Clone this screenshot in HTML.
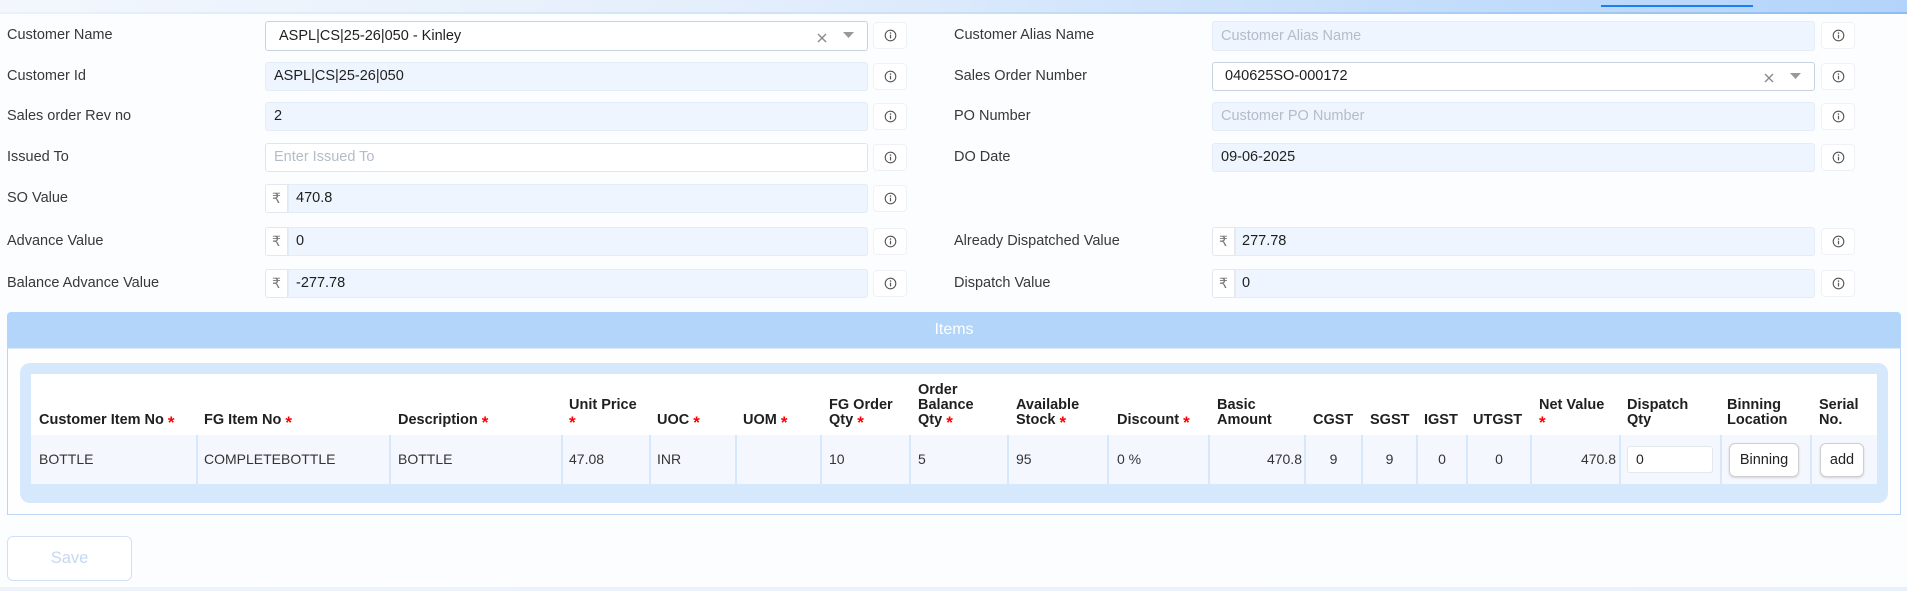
<!DOCTYPE html>
<html><head><meta charset="utf-8">
<style>
*{box-sizing:border-box;margin:0;padding:0}
body{width:1907px;height:591px;overflow:hidden;background:#fcfdff;font-family:"Liberation Sans","DejaVu Sans",sans-serif;position:relative;color:#222}
.a{position:absolute}
.lbl{position:absolute;font-size:14.5px;color:#383838;height:29px;line-height:29px;white-space:nowrap}
.in{position:absolute;height:29px;background:#eef5fe;border:1px solid #e4ecf6;border-radius:3px;font-size:14.5px;line-height:27px;padding-left:8px;color:#1e1e1e;white-space:nowrap;overflow:hidden}
.sel{background:#fff;border-color:#c9d3df;padding-left:13px}
.wh{background:#fff;border-color:#dfe5ee}
.ph{color:#b3bcc8}
.rp{position:absolute;height:29px;width:23px;background:#fff;border:1px solid #e3e8ef;border-radius:3px 0 0 3px;font-size:14px;line-height:27px;text-align:center;color:#777}
.info{position:absolute;width:34px;height:27px;background:#fff;border:1px solid #eef1f6;border-radius:4px}
.info svg{position:absolute;left:10px;top:6px}
.x{position:absolute}
.th{position:absolute;top:374px;height:61px;display:flex;align-items:flex-end;padding:0 0 7px 8px;font-weight:bold;font-size:14.5px;line-height:15px;color:#202020;white-space:nowrap}
.r{color:#f00;font-size:17px;line-height:10px;position:relative;top:4px;font-weight:bold}
.td{position:absolute;top:435px;height:49px;background:#f4f8fe;font-size:14px;line-height:49px;padding-left:8px;color:#333;white-space:nowrap}
.btn{position:absolute;background:#fff;border:1px solid #cfcfcf;border-radius:6px;box-shadow:0 1px 2px rgba(0,0,0,.15);font-size:14.5px;text-align:center;color:#222}
</style></head><body>

<!-- top band -->
<div class="a" style="left:0;top:0;width:1907px;height:13px;background:linear-gradient(to right,#f3f7fd 0%,#e3eefc 40%,#c4ddfb 75%,#b3d4fa 100%)"></div>
<div class="a" style="left:0;top:12px;width:1907px;height:2px;background:linear-gradient(to right,#eaf1fb 0%,#c9dff8 50%,#8dbcf3 100%)"></div>
<div class="a" style="left:1601px;top:5px;width:152px;height:2px;background:#1a7ff5"></div>

<!-- left labels -->
<div class="lbl" style="left:7px;top:21px">Customer Name</div>
<div class="lbl" style="left:7px;top:62px">Customer Id</div>
<div class="lbl" style="left:7px;top:102px">Sales order Rev no</div>
<div class="lbl" style="left:7px;top:143px">Issued To</div>
<div class="lbl" style="left:7px;top:184px">SO Value</div>
<div class="lbl" style="left:7px;top:227px">Advance Value</div>
<div class="lbl" style="left:7px;top:269px">Balance Advance Value</div>

<!-- left inputs -->
<div class="in sel" style="left:265px;top:21px;width:603px;height:30px;line-height:28px">ASPL|CS|25-26|050 - Kinley</div>
<svg class="x" style="left:817px;top:33px" width="10" height="10"><path d="M1 1L9 9M9 1L1 9" stroke="#8a8a8a" stroke-width="1.4"/></svg>
<svg class="x" style="left:843px;top:32px" width="11" height="6"><path d="M0 0H11L5.5 6Z" fill="#999"/></svg>
<div class="in" style="left:265px;top:62px;width:603px">ASPL|CS|25-26|050</div>
<div class="in" style="left:265px;top:102px;width:603px">2</div>
<div class="in wh ph" style="left:265px;top:143px;width:603px">Enter Issued To</div>
<div class="rp" style="left:265px;top:184px">₹</div>
<div class="in" style="left:288px;top:184px;width:580px;border-radius:0 3px 3px 0;padding-left:7px">470.8</div>
<div class="rp" style="left:265px;top:227px">₹</div>
<div class="in" style="left:288px;top:227px;width:580px;border-radius:0 3px 3px 0;padding-left:7px">0</div>
<div class="rp" style="left:265px;top:269px">₹</div>
<div class="in" style="left:288px;top:269px;width:580px;border-radius:0 3px 3px 0;padding-left:7px">-277.78</div>

<!-- left info -->
<div class="info" style="left:873px;top:22px"><svg width="13" height="13"><circle cx="6.5" cy="6.5" r="5.3" fill="none" stroke="#555" stroke-width="1.1"/><circle cx="6.5" cy="4" r=".8" fill="#555"/><path d="M6.5 5.7V9.4" stroke="#555" stroke-width="1.2"/></svg></div>
<div class="info" style="left:873px;top:63px"><svg width="13" height="13"><circle cx="6.5" cy="6.5" r="5.3" fill="none" stroke="#555" stroke-width="1.1"/><circle cx="6.5" cy="4" r=".8" fill="#555"/><path d="M6.5 5.7V9.4" stroke="#555" stroke-width="1.2"/></svg></div>
<div class="info" style="left:873px;top:103px"><svg width="13" height="13"><circle cx="6.5" cy="6.5" r="5.3" fill="none" stroke="#555" stroke-width="1.1"/><circle cx="6.5" cy="4" r=".8" fill="#555"/><path d="M6.5 5.7V9.4" stroke="#555" stroke-width="1.2"/></svg></div>
<div class="info" style="left:873px;top:144px"><svg width="13" height="13"><circle cx="6.5" cy="6.5" r="5.3" fill="none" stroke="#555" stroke-width="1.1"/><circle cx="6.5" cy="4" r=".8" fill="#555"/><path d="M6.5 5.7V9.4" stroke="#555" stroke-width="1.2"/></svg></div>
<div class="info" style="left:873px;top:185px"><svg width="13" height="13"><circle cx="6.5" cy="6.5" r="5.3" fill="none" stroke="#555" stroke-width="1.1"/><circle cx="6.5" cy="4" r=".8" fill="#555"/><path d="M6.5 5.7V9.4" stroke="#555" stroke-width="1.2"/></svg></div>
<div class="info" style="left:873px;top:228px"><svg width="13" height="13"><circle cx="6.5" cy="6.5" r="5.3" fill="none" stroke="#555" stroke-width="1.1"/><circle cx="6.5" cy="4" r=".8" fill="#555"/><path d="M6.5 5.7V9.4" stroke="#555" stroke-width="1.2"/></svg></div>
<div class="info" style="left:873px;top:270px"><svg width="13" height="13"><circle cx="6.5" cy="6.5" r="5.3" fill="none" stroke="#555" stroke-width="1.1"/><circle cx="6.5" cy="4" r=".8" fill="#555"/><path d="M6.5 5.7V9.4" stroke="#555" stroke-width="1.2"/></svg></div>

<!-- right labels -->
<div class="lbl" style="left:954px;top:21px">Customer Alias Name</div>
<div class="lbl" style="left:954px;top:62px">Sales Order Number</div>
<div class="lbl" style="left:954px;top:102px">PO Number</div>
<div class="lbl" style="left:954px;top:143px">DO Date</div>
<div class="lbl" style="left:954px;top:227px">Already Dispatched Value</div>
<div class="lbl" style="left:954px;top:269px">Dispatch Value</div>

<!-- right inputs -->
<div class="in ph" style="left:1212px;top:21px;width:603px;height:30px;line-height:28px">Customer Alias Name</div>
<div class="in sel" style="left:1212px;top:62px;width:603px;padding-left:12px">040625SO-000172</div>
<svg class="x" style="left:1764px;top:73px" width="10" height="10"><path d="M1 1L9 9M9 1L1 9" stroke="#8a8a8a" stroke-width="1.4"/></svg>
<svg class="x" style="left:1790px;top:73px" width="11" height="6"><path d="M0 0H11L5.5 6Z" fill="#999"/></svg>
<div class="in ph" style="left:1212px;top:102px;width:603px">Customer PO Number</div>
<div class="in" style="left:1212px;top:143px;width:603px">09-06-2025</div>
<div class="rp" style="left:1212px;top:227px">₹</div>
<div class="in" style="left:1235px;top:227px;width:580px;border-radius:0 3px 3px 0;padding-left:6px">277.78</div>
<div class="rp" style="left:1212px;top:269px">₹</div>
<div class="in" style="left:1235px;top:269px;width:580px;border-radius:0 3px 3px 0;padding-left:6px">0</div>

<!-- right info -->
<div class="info" style="left:1821px;top:22px"><svg width="13" height="13"><circle cx="6.5" cy="6.5" r="5.3" fill="none" stroke="#555" stroke-width="1.1"/><circle cx="6.5" cy="4" r=".8" fill="#555"/><path d="M6.5 5.7V9.4" stroke="#555" stroke-width="1.2"/></svg></div>
<div class="info" style="left:1821px;top:63px"><svg width="13" height="13"><circle cx="6.5" cy="6.5" r="5.3" fill="none" stroke="#555" stroke-width="1.1"/><circle cx="6.5" cy="4" r=".8" fill="#555"/><path d="M6.5 5.7V9.4" stroke="#555" stroke-width="1.2"/></svg></div>
<div class="info" style="left:1821px;top:103px"><svg width="13" height="13"><circle cx="6.5" cy="6.5" r="5.3" fill="none" stroke="#555" stroke-width="1.1"/><circle cx="6.5" cy="4" r=".8" fill="#555"/><path d="M6.5 5.7V9.4" stroke="#555" stroke-width="1.2"/></svg></div>
<div class="info" style="left:1821px;top:144px"><svg width="13" height="13"><circle cx="6.5" cy="6.5" r="5.3" fill="none" stroke="#555" stroke-width="1.1"/><circle cx="6.5" cy="4" r=".8" fill="#555"/><path d="M6.5 5.7V9.4" stroke="#555" stroke-width="1.2"/></svg></div>
<div class="info" style="left:1821px;top:228px"><svg width="13" height="13"><circle cx="6.5" cy="6.5" r="5.3" fill="none" stroke="#555" stroke-width="1.1"/><circle cx="6.5" cy="4" r=".8" fill="#555"/><path d="M6.5 5.7V9.4" stroke="#555" stroke-width="1.2"/></svg></div>
<div class="info" style="left:1821px;top:270px"><svg width="13" height="13"><circle cx="6.5" cy="6.5" r="5.3" fill="none" stroke="#555" stroke-width="1.1"/><circle cx="6.5" cy="4" r=".8" fill="#555"/><path d="M6.5 5.7V9.4" stroke="#555" stroke-width="1.2"/></svg></div>

<!-- Items section -->
<div class="a" style="left:7px;top:312px;width:1894px;height:36px;background:#b3d5fa;border-radius:4px 4px 0 0;color:#fff;font-size:16px;line-height:36px;text-align:center">Items</div>
<div class="a" style="left:7px;top:348px;width:1894px;height:167px;background:#fefefe;border:1px solid #bcd5f4;border-top:1px solid #dce9f8"></div>
<div class="a" style="left:20px;top:363px;width:1868px;height:140px;background:#d6e8fc;border-radius:10px"></div>
<div class="a" style="left:31px;top:374px;width:1846px;height:61px;background:#fff"></div>

<!-- header cells -->
<div class="th" style="left:31px;width:166px"><div>Customer Item No <span class="r">*</span></div></div>
<div class="th" style="left:197px;width:193px;padding-left:7px"><div>FG Item No <span class="r">*</span></div></div>
<div class="th" style="left:390px;width:172px"><div>Description <span class="r">*</span></div></div>
<div class="th" style="left:562px;width:88px;padding-left:7px"><div>Unit Price<br><span class="r">*</span></div></div>
<div class="th" style="left:650px;width:86px;padding-left:7px"><div>UOC <span class="r">*</span></div></div>
<div class="th" style="left:736px;width:85px;padding-left:7px"><div>UOM <span class="r">*</span></div></div>
<div class="th" style="left:821px;width:89px"><div>FG Order<br>Qty <span class="r">*</span></div></div>
<div class="th" style="left:910px;width:98px"><div>Order<br>Balance<br>Qty <span class="r">*</span></div></div>
<div class="th" style="left:1008px;width:100px"><div>Available<br>Stock <span class="r">*</span></div></div>
<div class="th" style="left:1108px;width:101px;padding-left:9px"><div>Discount <span class="r">*</span></div></div>
<div class="th" style="left:1209px;width:96px"><div>Basic<br>Amount</div></div>
<div class="th" style="left:1305px;width:57px"><div>CGST</div></div>
<div class="th" style="left:1362px;width:55px"><div>SGST</div></div>
<div class="th" style="left:1417px;width:50px;padding-left:7px"><div>IGST</div></div>
<div class="th" style="left:1467px;width:64px;padding-left:6px"><div>UTGST</div></div>
<div class="th" style="left:1531px;width:89px"><div>Net Value<br><span class="r">*</span></div></div>
<div class="th" style="left:1620px;width:101px;padding-left:7px"><div>Dispatch<br>Qty</div></div>
<div class="th" style="left:1721px;width:90px;padding-left:6px"><div>Binning<br>Location</div></div>
<div class="th" style="left:1811px;width:66px"><div>Serial<br>No.</div></div>

<!-- data cells -->
<div class="td" style="left:31px;width:165px">BOTTLE</div>
<div class="td" style="left:198px;width:191px;padding-left:6px">COMPLETEBOTTLE</div>
<div class="td" style="left:391px;width:170px;padding-left:7px">BOTTLE</div>
<div class="td" style="left:563px;width:86px;padding-left:6px">47.08</div>
<div class="td" style="left:651px;width:84px;padding-left:6px">INR</div>
<div class="td" style="left:737px;width:83px"></div>
<div class="td" style="left:822px;width:87px;padding-left:7px">10</div>
<div class="td" style="left:911px;width:96px;padding-left:7px">5</div>
<div class="td" style="left:1009px;width:98px;padding-left:7px">95</div>
<div class="td" style="left:1109px;width:99px;padding-left:8px">0 %</div>
<div class="td" style="left:1210px;width:94px;padding:0 2px 0 0;text-align:right">470.8</div>
<div class="td" style="left:1306px;width:55px;padding:0;text-align:center">9</div>
<div class="td" style="left:1363px;width:53px;padding:0;text-align:center">9</div>
<div class="td" style="left:1418px;width:48px;padding:0;text-align:center">0</div>
<div class="td" style="left:1468px;width:62px;padding:0;text-align:center">0</div>
<div class="td" style="left:1532px;width:87px;padding:0 3px 0 0;text-align:right">470.8</div>
<div class="td" style="left:1621px;width:99px"></div>
<div class="td" style="left:1722px;width:88px"></div>
<div class="td" style="left:1812px;width:65px"></div>

<div class="a" style="left:1627px;top:446px;width:86px;height:27px;background:#fff;border:1px solid #e3e7ee;border-radius:3px;font-size:14px;line-height:25px;padding-left:8px;color:#222">0</div>
<div class="btn" style="left:1729px;top:443px;width:70px;height:34px;line-height:32px">Binning</div>
<div class="btn" style="left:1820px;top:443px;width:44px;height:34px;line-height:32px">add</div>

<!-- Save -->
<div class="a" style="left:7px;top:536px;width:125px;height:45px;background:#fff;border:1px solid #d0e1f6;border-radius:6px;font-size:16.5px;line-height:43px;text-align:center;color:#c6d8f0">Save</div>

<!-- bottom band -->
<div class="a" style="left:0;top:587px;width:1907px;height:4px;background:linear-gradient(to right,#eef3fb,#e9f1fb)"></div>

</body></html>
